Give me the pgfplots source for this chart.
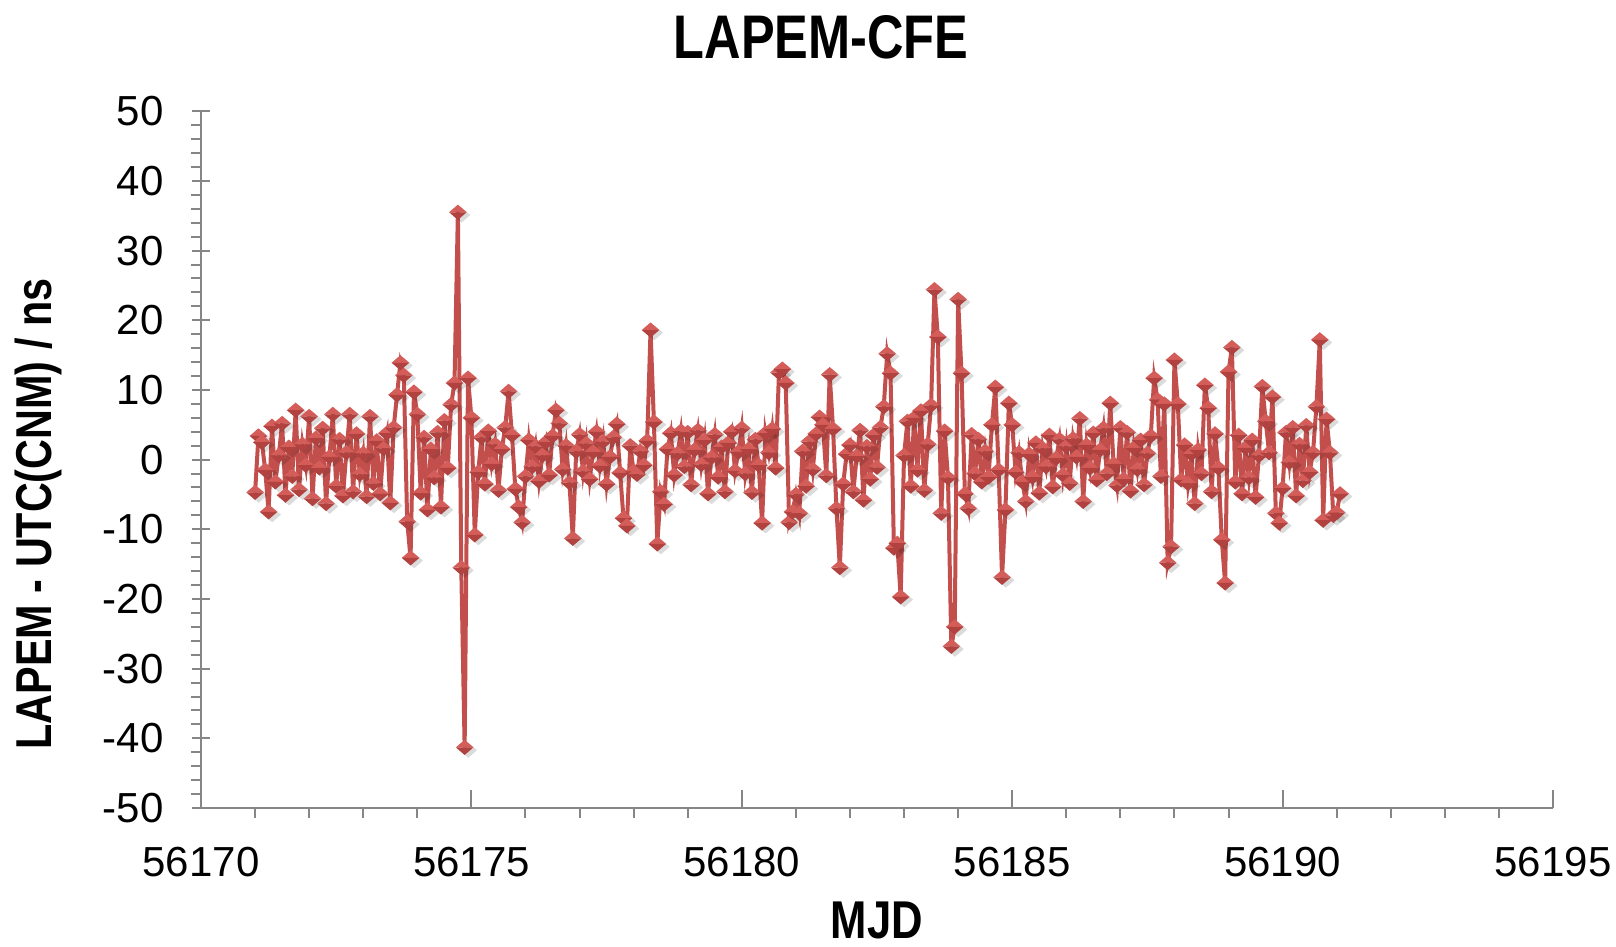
\documentclass[border=0pt]{standalone}
\usepackage{fontspec}
\setmainfont{Liberation Sans}
\newfontfamily\condbold[FakeStretch=0.82]{Liberation Sans Bold}
\usepackage{pgfplots}
\pgfplotsset{compat=1.18}

\definecolor{mred}{HTML}{C24F4C}
\definecolor{mlight}{HTML}{D55D59}
\definecolor{mdark}{HTML}{B1423F}
\definecolor{axgray}{HTML}{868686}

% wide diamond, light top half, dark bottom half, soft shadow
\pgfdeclareplotmark{bipyr}{%
  \begin{pgfscope}
    \pgfsetfillcolor{black}\pgfsetfillopacity{0.14}%
    \pgfpathmoveto{\pgfqpoint{0.45\pgfplotmarksize}{0.6\pgfplotmarksize}}%
    \pgfpathlineto{\pgfqpoint{1.55\pgfplotmarksize}{-0.35\pgfplotmarksize}}%
    \pgfpathlineto{\pgfqpoint{0.45\pgfplotmarksize}{-1.3\pgfplotmarksize}}%
    \pgfpathlineto{\pgfqpoint{-0.65\pgfplotmarksize}{-0.35\pgfplotmarksize}}%
    \pgfpathclose\pgfusepathqfill
  \end{pgfscope}
  \begin{pgfscope}
    \pgfsetfillcolor{mlight}%
    \pgfpathmoveto{\pgfqpoint{-1.1\pgfplotmarksize}{0pt}}%
    \pgfpathlineto{\pgfqpoint{0pt}{0.95\pgfplotmarksize}}%
    \pgfpathlineto{\pgfqpoint{1.1\pgfplotmarksize}{0pt}}%
    \pgfpathclose\pgfusepathqfill
  \end{pgfscope}
  \begin{pgfscope}
    \pgfsetfillcolor{mdark}%
    \pgfpathmoveto{\pgfqpoint{-1.1\pgfplotmarksize}{0pt}}%
    \pgfpathlineto{\pgfqpoint{0pt}{-0.95\pgfplotmarksize}}%
    \pgfpathlineto{\pgfqpoint{1.1\pgfplotmarksize}{0pt}}%
    \pgfpathclose\pgfusepathqfill
  \end{pgfscope}}

\begin{document}
\begin{tikzpicture}
\begin{axis}[
  scale only axis, width=338pt, height=174.2pt,
  xmin=56170, xmax=56195, ymin=-50, ymax=50,
  xtick={56170,56175,56180,56185,56190,56195},
  ytick={-50,-40,...,50},
  minor x tick num=4, minor y tick num=4,
  hide obscured x ticks=false, hide obscured y ticks=false,
  axis lines=left, axis line style={-, axgray, line width=0.5pt},
  tick style={axgray, line width=0.5pt},
  xtick align=inside, ytick align=center,
  major tick length=4.4pt, minor tick length=2.4pt,
  minor x tick style={yshift=-2.4pt},
  minor y tick style={xshift=-1.2pt},
  scaled x ticks=false,
  /pgf/number format/assume math mode=true,
  /pgf/number format/1000 sep={},
  ticklabel style={font=\fontsize{10.5}{12}\selectfont},
  xticklabel style={anchor=base, yshift=-17pt,
    /pgf/number format/fixed, /pgf/number format/precision=0},
  yticklabel style={anchor=east, inner sep=0pt, xshift=-7pt},
  clip=false,
]
\addplot[color=mred, line width=1pt, mark=bipyr, mark size=2pt] coordinates {
(56171.0000,-4.7)(56171.0625,3.4)(56171.1250,2.5)(56171.1875,-1.5)(56171.2500,-7.5)(56171.3125,4.8)(56171.3750,-3.2)(56171.4375,0.6)(56171.5000,5.2)(56171.5625,-5.1)(56171.6250,1.8)(56171.6875,-2.4)(56171.7500,7.1)(56171.8125,-4.3)(56171.8750,2.2)(56171.9375,-0.8)
(56172.0000,6.2)(56172.0625,-5.6)(56172.1250,3.1)(56172.1875,-1.2)(56172.2500,4.5)(56172.3125,-6.3)(56172.3750,0.4)(56172.4375,6.5)(56172.5000,-3.8)(56172.5625,2.9)(56172.6250,-5.2)(56172.6875,1.0)(56172.7500,6.5)(56172.8125,-4.6)(56172.8750,3.7)(56172.9375,-2.1)
(56173.0000,0.9)(56173.0625,-5.3)(56173.1250,6.2)(56173.1875,-3.4)(56173.2500,2.7)(56173.3125,-4.9)(56173.3750,1.6)(56173.4375,3.8)(56173.5000,-6.2)(56173.5625,4.6)(56173.6250,9.3)(56173.6875,13.9)(56173.7500,12.1)(56173.8125,-8.9)(56173.8750,-14.1)(56173.9375,9.7)
(56174.0000,6.5)(56174.0625,-4.8)(56174.1250,3.2)(56174.1875,-7.2)(56174.2500,1.5)(56174.3125,-2.6)(56174.3750,3.9)(56174.4375,-6.8)(56174.5000,5.6)(56174.5625,-1.2)(56174.6250,7.9)(56174.6875,11.0)(56174.7500,35.5)(56174.8125,-15.5)(56174.8750,-41.3)(56174.9375,11.7)
(56175.0000,6.0)(56175.0625,-10.8)(56175.1250,-1.8)(56175.1875,3.2)(56175.2500,-3.5)(56175.3125,4.1)(56175.3750,-0.6)(56175.4375,2.2)(56175.5000,-4.4)(56175.5625,1.5)(56175.6250,4.6)(56175.6875,9.8)(56175.7500,3.5)(56175.8125,-4.2)(56175.8750,-6.8)(56175.9375,-9.0)
(56176.0000,-2.4)(56176.0625,2.8)(56176.1250,-1.0)(56176.1875,1.9)(56176.2500,-3.1)(56176.3125,0.6)(56176.3750,2.5)(56176.4375,-2.2)(56176.5000,3.4)(56176.5625,7.1)(56176.6250,5.2)(56176.6875,-1.4)(56176.7500,2.0)(56176.8125,-3.3)(56176.8750,-11.3)(56176.9375,1.2)
(56177.0000,3.6)(56177.0625,-1.7)(56177.1250,2.3)(56177.1875,-2.8)(56177.2500,1.1)(56177.3125,4.0)(56177.3750,-0.9)(56177.4375,2.6)(56177.5000,-3.5)(56177.5625,0.4)(56177.6250,3.2)(56177.6875,5.1)(56177.7500,-1.9)(56177.8125,-8.4)(56177.8750,-9.5)(56177.9375,2.0)
(56178.0000,-1.7)(56178.0625,-2.1)(56178.1250,1.2)(56178.1875,-0.8)(56178.2500,2.7)(56178.3125,18.6)(56178.3750,5.4)(56178.4375,-12.1)(56178.5000,-4.6)(56178.5625,-6.4)(56178.6250,1.5)(56178.6875,3.8)(56178.7500,-2.2)(56178.8125,0.9)(56178.8750,4.1)(56178.9375,-1.0)
(56179.0000,3.9)(56179.0625,-3.6)(56179.1250,1.4)(56179.1875,4.2)(56179.2500,-0.7)(56179.3125,2.8)(56179.3750,-4.9)(56179.4375,0.3)(56179.5000,3.6)(56179.5625,-2.5)(56179.6250,1.8)(56179.6875,-4.6)(56179.7500,2.4)(56179.8125,4.0)(56179.8750,-1.6)(56179.9375,1.1)
(56180.0000,4.5)(56180.0625,-2.0)(56180.1250,1.5)(56180.1875,-4.7)(56180.2500,2.9)(56180.3125,-0.8)(56180.3750,-9.1)(56180.4375,3.8)(56180.5000,1.0)(56180.5625,4.4)(56180.6250,-1.2)(56180.6875,12.5)(56180.7500,13.0)(56180.8125,11.0)(56180.8750,-9.0)(56180.9375,-7.5)
(56181.0000,-5.0)(56181.0625,-7.7)(56181.1250,1.2)(56181.1875,-3.8)(56181.2500,2.6)(56181.3125,-1.4)(56181.3750,3.7)(56181.4375,6.1)(56181.5000,5.0)(56181.5625,-2.3)(56181.6250,12.2)(56181.6875,4.4)(56181.7500,-7.0)(56181.8125,-15.5)(56181.8750,-3.5)(56181.9375,0.8)
(56182.0000,2.1)(56182.0625,-4.6)(56182.1250,0.5)(56182.1875,4.2)(56182.2500,-5.8)(56182.3125,1.9)(56182.3750,-2.8)(56182.4375,3.5)(56182.5000,-1.1)(56182.5625,4.6)(56182.6250,7.6)(56182.6875,15.2)(56182.7500,12.4)(56182.8125,-12.7)(56182.8750,-12.0)(56182.9375,-19.7)
(56183.0000,0.6)(56183.0625,5.5)(56183.1250,-3.8)(56183.1875,6.0)(56183.2500,-1.5)(56183.3125,7.0)(56183.3750,-4.4)(56183.4375,2.2)(56183.5000,7.8)(56183.5625,24.4)(56183.6250,17.6)(56183.6875,-7.7)(56183.7500,4.1)(56183.8125,-2.6)(56183.8750,-26.8)(56183.9375,-24.0)
(56184.0000,23.0)(56184.0625,12.4)(56184.1250,-4.9)(56184.1875,-7.0)(56184.2500,3.6)(56184.3125,-2.0)(56184.3750,2.9)(56184.4375,-3.2)(56184.5000,1.2)(56184.5625,-2.5)(56184.6250,5.0)(56184.6875,10.4)(56184.7500,-1.5)(56184.8125,-16.9)(56184.8750,-7.2)(56184.9375,8.1)
(56185.0000,5.0)(56185.0625,-1.8)(56185.1250,1.0)(56185.1875,-3.2)(56185.2500,-6.0)(56185.3125,0.8)(56185.3750,-2.5)(56185.4375,2.4)(56185.5000,-4.8)(56185.5625,1.6)(56185.6250,-1.0)(56185.6875,3.5)(56185.7500,-3.9)(56185.8125,0.2)(56185.8750,2.9)(56185.9375,-2.2)
(56186.0000,1.9)(56186.0625,-3.4)(56186.1250,3.0)(56186.1875,0.4)(56186.2500,5.9)(56186.3125,-6.0)(56186.3750,2.1)(56186.4375,-1.2)(56186.5000,3.8)(56186.5625,-2.9)(56186.6250,1.4)(56186.6875,4.5)(56186.7500,-2.0)(56186.8125,8.1)(56186.8750,-0.6)(56186.9375,-3.7)
(56187.0000,4.6)(56187.0625,-2.8)(56187.1250,3.9)(56187.1875,-4.5)(56187.2500,1.7)(56187.3125,-1.4)(56187.3750,2.8)(56187.4375,-3.6)(56187.5000,0.9)(56187.5625,3.4)(56187.6250,11.7)(56187.6875,8.6)(56187.7500,-2.4)(56187.8125,8.0)(56187.8750,-14.8)(56187.9375,-12.5)
(56188.0000,14.3)(56188.0625,8.0)(56188.1250,-2.9)(56188.1875,2.1)(56188.2500,-3.4)(56188.3125,0.8)(56188.3750,-6.3)(56188.4375,1.4)(56188.5000,-2.0)(56188.5625,10.7)(56188.6250,7.4)(56188.6875,-4.6)(56188.7500,3.7)(56188.8125,-1.2)(56188.8750,-11.5)(56188.9375,-17.7)
(56189.0000,12.6)(56189.0625,16.1)(56189.1250,-3.2)(56189.1875,3.5)(56189.2500,-4.9)(56189.3125,1.7)(56189.3750,-2.6)(56189.4375,2.8)(56189.5000,-5.4)(56189.5625,0.6)(56189.6250,10.5)(56189.6875,5.5)(56189.7500,1.0)(56189.8125,9.0)(56189.8750,-7.7)(56189.9375,-9.1)
(56190.0000,-4.1)(56190.0625,3.9)(56190.1250,-0.4)(56190.1875,4.6)(56190.2500,-5.2)(56190.3125,2.2)(56190.3750,-3.0)(56190.4375,4.9)(56190.5000,-1.8)(56190.5625,1.0)(56190.6250,7.6)(56190.6875,17.2)(56190.7500,-8.7)(56190.8125,5.8)(56190.8750,1.0)(56190.9375,-8.0)
(56191.0000,-7.6)(56191.0625,-4.9)
};
\end{axis}
\node[anchor=base, font=\condbold\fontsize{15.4}{18}\selectfont] at (155pt,187.4pt) {LAPEM-CFE};
\node[anchor=base, rotate=90, font=\condbold\fontsize{12.6}{15}\selectfont] at (-37.4pt,73.5pt) {LAPEM - UTC(CNM) / ns};
\node[anchor=base, font=\condbold\fontsize{13.3}{16}\selectfont] at (169pt,-32.6pt) {MJD};
\pgfresetboundingbox
\path[use as bounding box] (-50.25pt,-34.5pt) rectangle ++(404pt,236.5pt);
\end{tikzpicture}
\end{document}
